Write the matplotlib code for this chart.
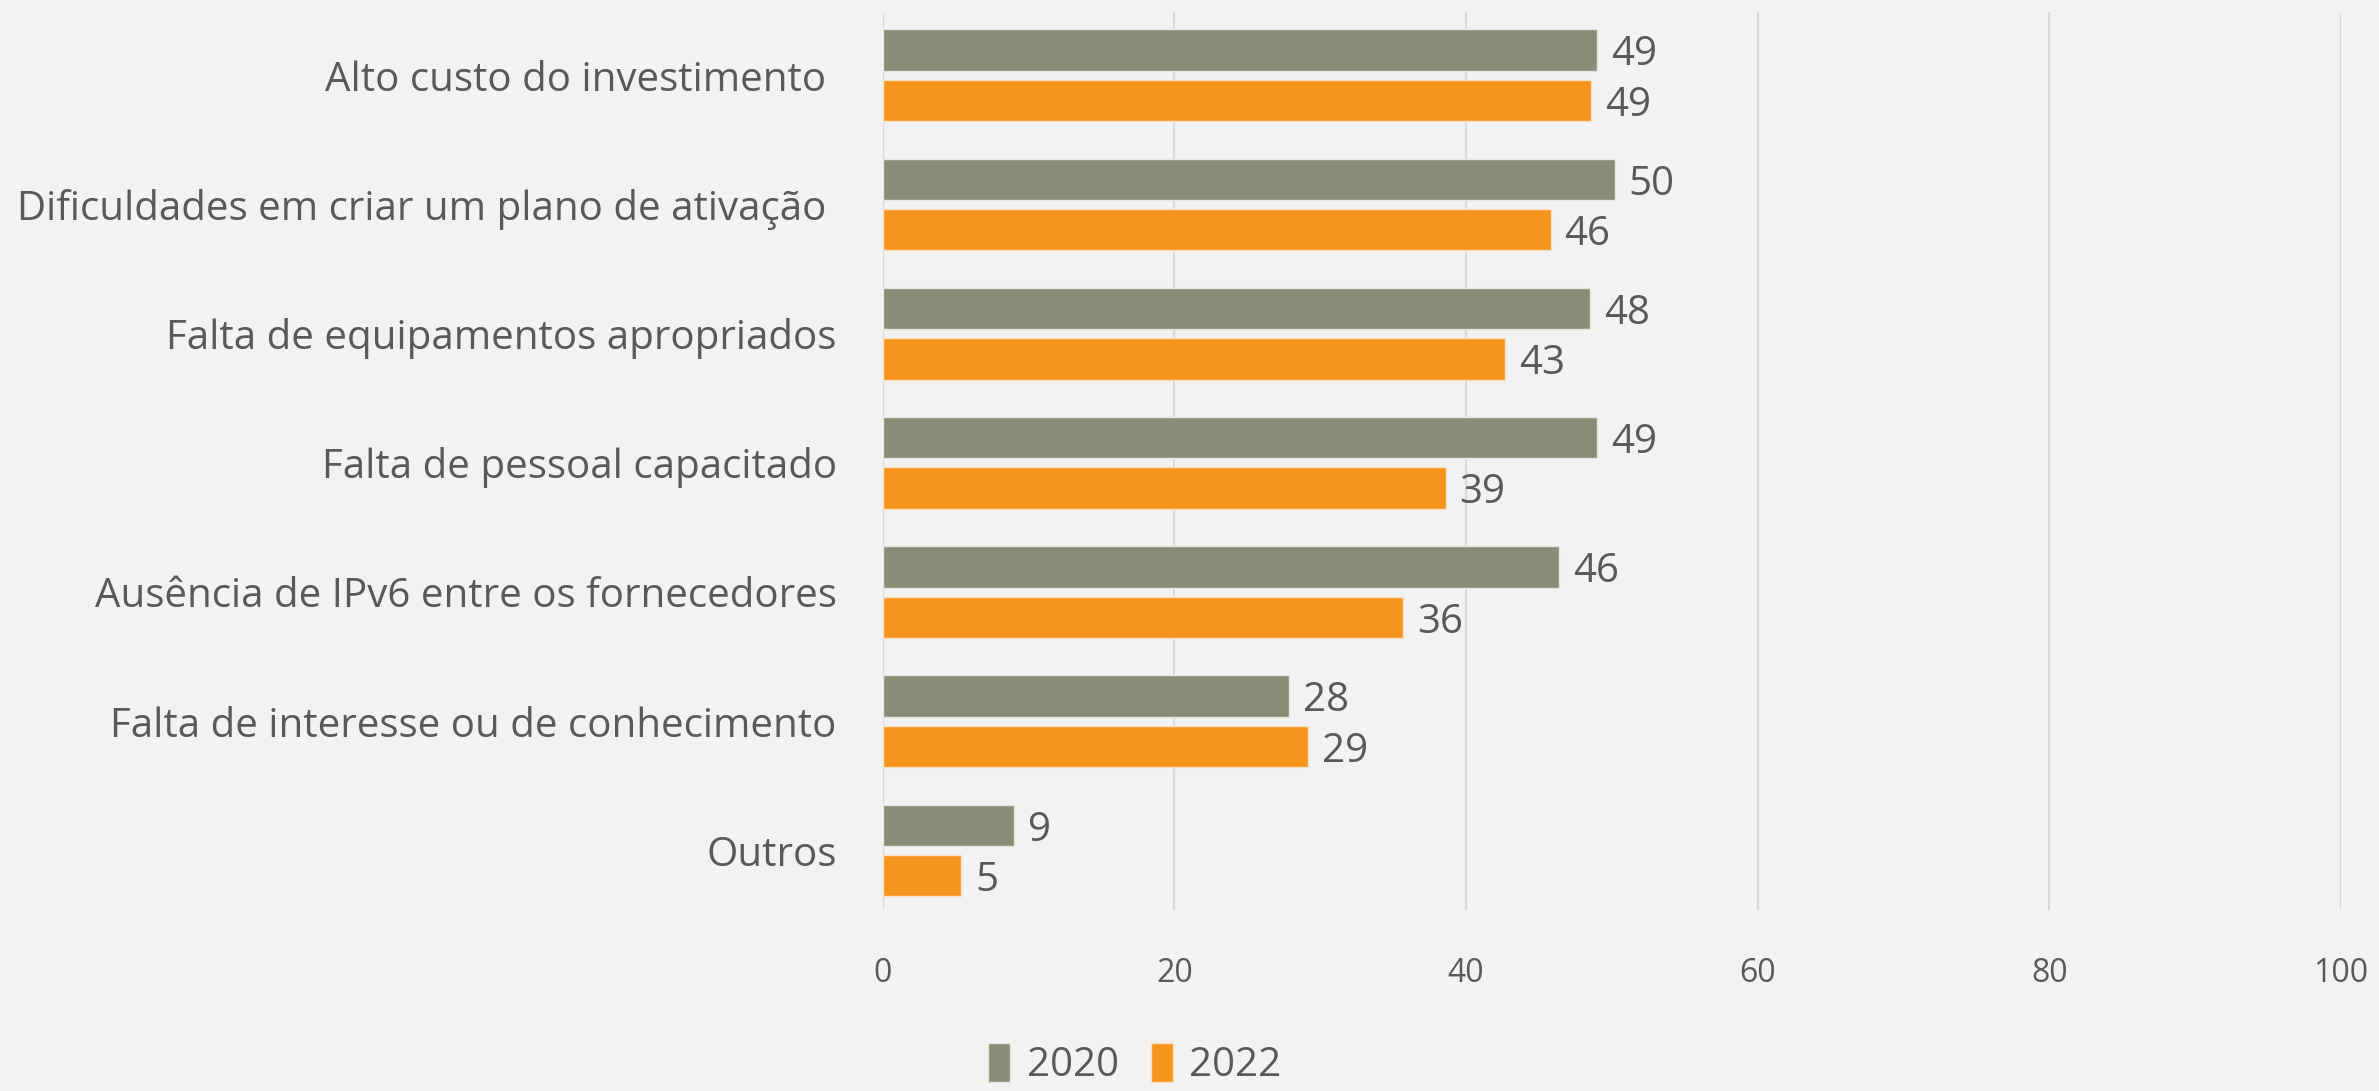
import numpy as np
import matplotlib
matplotlib.use("Agg")
import matplotlib.pyplot as plt

# data (bar lengths, labels are the rounded values)
categories = ["Alto custo do investimento ",
              "Dificuldades em criar um plano de ativação ",
              "Falta de equipamentos apropriados",
              "Falta de pessoal capacitado",
              "Ausência de IPv6 entre os fornecedores",
              "Falta de interesse ou de conhecimento",
              "Outros"]
v2020 = [49.0, 50.2, 48.5, 49.0, 46.4, 27.9, 9.0]
v2022 = [48.6, 45.8, 42.7, 38.6, 35.7, 29.2, 5.4]
series_names = ["2020", "2022"]
xticks = [0, 20, 40, 60, 80, 100]

bg = "#F2F2F2"
c2020 = "#8A8C75"
c2022 = "#F7941D"
txt = "#595959"

plt.rcParams['font.family'] = ['Open Sans', 'DejaVu Sans']

fig = plt.figure(figsize=(23.79, 10.91), dpi=100, facecolor=bg)
ax = fig.add_axes([0.371, 0.166, 0.613, 0.823], facecolor=bg)

y = np.arange(len(categories))
h = 0.32
gap = 0.07
b1 = ax.barh(y - (h + gap) / 2, v2020, height=h, color=c2020, edgecolor="#E6E6E0", linewidth=1, label=series_names[0], zorder=3)
b2 = ax.barh(y + (h + gap) / 2, v2022, height=h, color=c2022, edgecolor="#F8E0C4", linewidth=1, label=series_names[1], zorder=3)

for bars, vals in ((b1, v2020), (b2, v2022)):
    labs = ax.bar_label(bars, labels=[str(round(v)) for v in vals], padding=10, fontsize=29, color=txt)
    for t in labs:
        t.set_va('center_baseline')

ax.set_xlim(0, 100)
ax.set_ylim(len(categories) - 0.54, -0.49)
ax.set_xticks(xticks)
ax.set_xticklabels([str(t) for t in xticks], fontsize=23, color=txt)
ax.set_yticks(y)
ax.set_yticklabels(categories, fontsize=29, color=txt)
ax.tick_params(axis='x', length=0, pad=34)
ax.tick_params(axis='y', length=0, pad=33)
ax.grid(axis='x', color="#D9D9D9", linewidth=1.5, zorder=0)
for s in ax.spines.values():
    s.set_visible(False)

leg = fig.legend(handles=[b1, b2], labels=series_names, loc='center', bbox_to_anchor=(0.477, 0.024),
                 ncol=2, frameon=False, fontsize=29, handlelength=0.55, handleheight=1.1,
                 handletextpad=0.4, columnspacing=0.8, borderpad=0.1)
for t in leg.get_texts():
    t.set_color(txt)

fig.savefig("out.png", dpi=100, facecolor=bg)
